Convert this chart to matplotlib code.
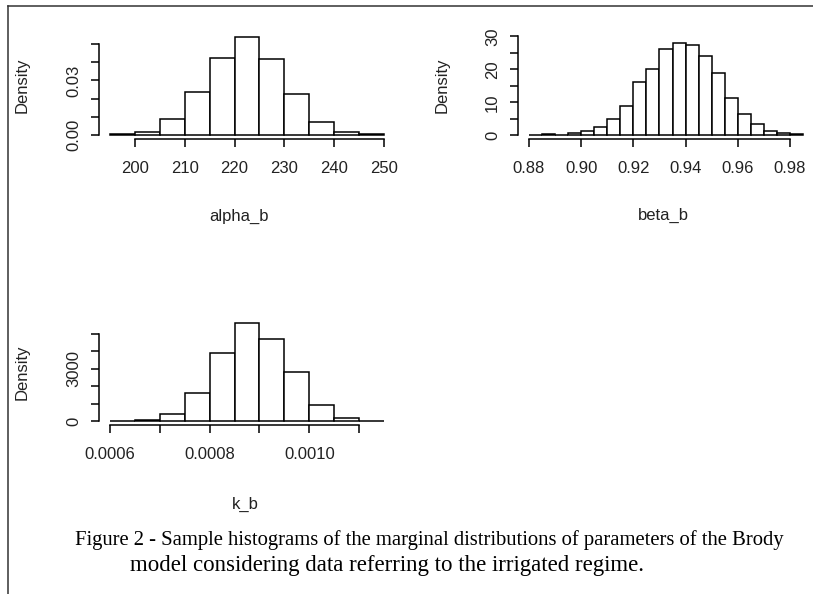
import numpy as np
import matplotlib.pyplot as plt
from matplotlib.lines import Line2D

W, H = 813, 594

# histogram densities
alpha_edges = [195, 200, 205, 210, 215, 220, 225, 230, 235, 240, 245, 250]
alpha_dens = [0.0007, 0.0015, 0.0091, 0.0234, 0.0423, 0.0540, 0.0418, 0.0228, 0.0071, 0.0015, 0.0007]

beta_edges = [0.880, 0.885, 0.890, 0.895, 0.900, 0.905, 0.910, 0.915, 0.920, 0.925, 0.930,
              0.935, 0.940, 0.945, 0.950, 0.955, 0.960, 0.965, 0.970, 0.975, 0.980, 0.985]
beta_dens = [0.0, 0.4, 0.0, 0.8, 1.3, 2.4, 5.0, 8.8, 16.0, 20.0, 26.0,
             28.0, 27.3, 24.1, 19.0, 11.4, 6.5, 3.5, 1.3, 0.8, 0.4]

k_edges = [0.00060, 0.00065, 0.00070, 0.00075, 0.00080, 0.00085, 0.00090,
           0.00095, 0.00100, 0.00105, 0.00110, 0.00115]
k_dens = [0, 60, 420, 1580, 3890, 5630, 4710, 2810, 920, 150, 10]

alpha_xticks = [200, 210, 220, 230, 240, 250]
alpha_yticks = [0.00, 0.01, 0.02, 0.03, 0.04, 0.05]
alpha_ylabels = ["0.00", "", "", "0.03", "", ""]

beta_xticks = [0.88, 0.90, 0.92, 0.94, 0.96, 0.98]
beta_yticks = [0, 5, 10, 15, 20, 25, 30]
beta_ylabels = ["0", "", "10", "", "20", "", "30"]

k_xticks = [0.0006, 0.0007, 0.0008, 0.0009, 0.0010, 0.0011]
k_xlabels = ["0.0006", "", "0.0008", "", "0.0010", ""]
k_yticks = [0, 1000, 2000, 3000, 4000, 5000]
k_ylabels = ["0", "", "", "3000", "", ""]

caption1 = "Figure 2 - Sample histograms of the marginal distributions of parameters of the Brody"
caption2 = "model considering data referring to the irrigated regime."

plt.rcParams['font.family'] = ['Liberation Sans', 'DejaVu Sans']
TXT = '#222222'
FS = 12


def px_axes(fig, left, right, top, bottom):
    return fig.add_axes([left / W, 1 - bottom / H, (right - left) / W, (bottom - top) / H])


def histpanel(ax, edges, dens, xlim, ylim, xticks, xlabels, yticks, ylabels, xlab, xlab_pos, ylab_pos):
    edges = np.array(edges)
    ax.bar(edges[:-1], dens, width=np.diff(edges), align='edge',
           color='white', edgecolor='black', linewidth=1.1)
    ax.set_xlim(xlim)
    ax.set_ylim(ylim)
    for s in ['top', 'right']:
        ax.spines[s].set_visible(False)
    ax.spines['left'].set_bounds(yticks[0], yticks[-1])
    ax.spines['bottom'].set_bounds(xticks[0], xticks[-1])
    for s in ['left', 'bottom']:
        ax.spines[s].set_linewidth(1.1)
    ax.set_xticks(xticks)
    ax.set_xticklabels(xlabels)
    ax.set_yticks(yticks)
    ax.set_yticklabels(ylabels, rotation=90, va='center')
    ax.tick_params(axis='both', length=6, width=1.1, labelsize=FS, labelcolor=TXT)
    ax.tick_params(axis='x', pad=10)
    ax.tick_params(axis='y', pad=7)
    ax.set_xlabel(xlab, fontsize=FS, color=TXT)
    ax.set_ylabel("Density", fontsize=FS, color=TXT)
    ax.xaxis.set_label_coords(*xlab_pos)
    ax.yaxis.set_label_coords(*ylab_pos)


fig = plt.figure(figsize=(W / 100, H / 100), dpi=100)

# alpha_b
ax1 = px_axes(fig, 99, 395, 32.8, 139)
histpanel(ax1, alpha_edges, alpha_dens, (192.8, 252.2), (-0.00216, 0.0562),
          alpha_xticks, [str(t) for t in alpha_xticks], alpha_yticks, alpha_ylabels,
          "alpha_b", ((239 - 99) / 296, (139 - 209) / 106.2), ((30 - 99) / 296, (139 - 85) / 106.2))

# beta_b
ax2 = px_axes(fig, 518, 813, 34.6, 139)
histpanel(ax2, beta_edges, beta_dens, (0.8758, 0.8758 + 295 / 2610), (-1.12, 30.5),
          beta_xticks, ["%.2f" % t for t in beta_xticks], beta_yticks, beta_ylabels,
          "beta_b", ((663 - 518) / 295, (139 - 208) / 104.4), ((450 - 518) / 295, (139 - 85) / 104.4))

# k_b
ax3 = px_axes(fig, 99, 395, 319, 425)
histpanel(ax3, k_edges, k_dens, (0.000578, 0.001172), (-230, 5855),
          k_xticks, k_xlabels, k_yticks, k_ylabels,
          "k_b", ((245 - 99) / 296, (425 - 497) / 106), ((30 - 99) / 296, (425 - 372) / 106))

# page border
fig.add_artist(Line2D([8 / W, 8 / W], [0, 1 - 5.5 / H], color='#333333', lw=1.1))
fig.add_artist(Line2D([8 / W, 1], [1 - 5.5 / H, 1 - 5.5 / H], color='#333333', lw=1.1))

# caption
fig.text(75 / W, 1 - 540 / H, caption1, fontsize=14.9, family='Liberation Serif',
         va='center', ha='left', color='black')
fig.text(130 / W, 1 - 565 / H, caption2, fontsize=16.5, family='Liberation Serif',
         va='center', ha='left', color='black')

fig.savefig("out.png", dpi=100)
